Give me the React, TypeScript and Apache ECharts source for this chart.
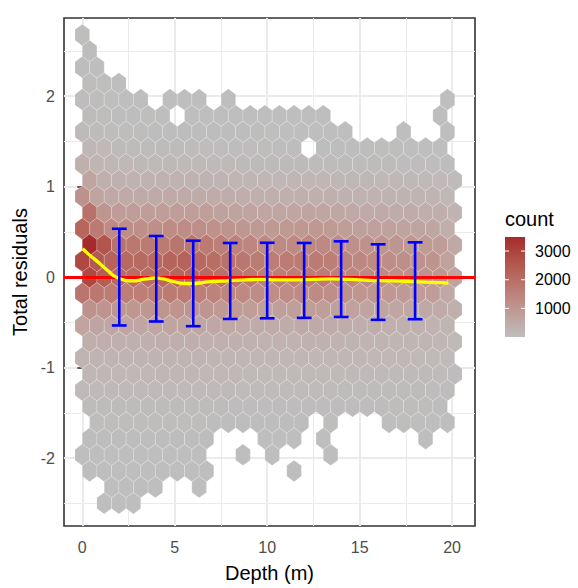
import React, { useEffect, useRef } from "react";
import * as echarts from "echarts";

// ---------- data ----------
const binWidthX = 0.79; // hex bin width (depth)
const rowStepY = 0.1785; // vertical distance between hex rows (residual)
const topRowIndex = 15; // row index of first row below (row y = index * rowStepY)

// hex counts: one array per row, from top row (index 15) down to bottom row (index -14); 26 columns; 0 = no hex
const hexCounts: number[][] = [
  [12, 0, 0, 0, 0, 0, 0, 0, 0, 0, 0, 0, 0, 0, 0, 0, 0, 0, 0, 0, 0, 0, 0, 0, 0, 0],
  [18, 0, 0, 0, 0, 0, 0, 0, 0, 0, 0, 0, 0, 0, 0, 0, 0, 0, 0, 0, 0, 0, 0, 0, 0, 0],
  [25, 8, 0, 0, 0, 0, 0, 0, 0, 0, 0, 0, 0, 0, 0, 0, 0, 0, 0, 0, 0, 0, 0, 0, 0, 0],
  [35, 12, 5, 0, 0, 0, 0, 0, 0, 0, 0, 0, 0, 0, 0, 0, 0, 0, 0, 0, 0, 0, 0, 0, 0, 0],
  [50, 20, 12, 8, 5, 0, 4, 5, 3, 0, 2, 0, 0, 0, 0, 0, 0, 0, 0, 0, 0, 0, 0, 0, 0, 2],
  [70, 35, 25, 18, 12, 8, 0, 8, 10, 6, 7, 6, 5, 4, 5, 3, 2, 0, 0, 0, 0, 0, 0, 0, 2, 0],
  [110, 60, 45, 35, 28, 25, 22, 22, 20, 18, 18, 15, 14, 12, 10, 10, 8, 6, 4, 0, 0, 0, 3, 0, 0, 2],
  [190, 110, 90, 75, 65, 60, 60, 58, 55, 50, 45, 40, 35, 32, 30, 0, 25, 22, 18, 15, 12, 10, 8, 6, 4, 0],
  [350, 210, 170, 150, 140, 135, 140, 135, 130, 120, 110, 100, 95, 90, 90, 90, 85, 80, 75, 70, 65, 60, 55, 50, 45, 30],
  [650, 380, 320, 290, 280, 275, 285, 280, 270, 250, 230, 215, 200, 195, 195, 200, 195, 185, 175, 165, 160, 150, 140, 130, 120, 80],
  [1100, 650, 540, 500, 490, 490, 510, 500, 480, 450, 420, 390, 370, 360, 360, 375, 370, 350, 330, 310, 300, 280, 270, 250, 240, 160],
  [1900, 1000, 860, 800, 790, 790, 820, 810, 780, 730, 680, 640, 600, 590, 590, 620, 610, 580, 540, 510, 490, 460, 440, 410, 390, 260],
  [2200, 1700, 1300, 1200, 1200, 1200, 1260, 1250, 1200, 1120, 1050, 980, 920, 900, 900, 950, 940, 880, 820, 770, 740, 700, 670, 620, 600, 400],
  [3490, 2600, 1900, 1750, 1700, 1700, 1800, 1780, 1700, 1600, 1500, 1400, 1300, 1280, 1300, 1350, 1330, 1250, 1150, 1080, 1050, 990, 950, 880, 850, 550],
  [2900, 2500, 2250, 2100, 2100, 2150, 2250, 2250, 2150, 2000, 1900, 1780, 1650, 1620, 1650, 1700, 1680, 1580, 1450, 1350, 1300, 1230, 1180, 1100, 1050, 700],
  [2900, 2400, 2150, 2050, 2050, 2100, 2200, 2200, 2100, 1950, 1850, 1720, 1600, 1580, 1600, 1650, 1640, 1540, 1420, 1320, 1280, 1200, 1150, 1080, 1030, 680],
  [1800, 1750, 1650, 1600, 1600, 1620, 1680, 1680, 1600, 1500, 1420, 1330, 1250, 1230, 1240, 1300, 1280, 1200, 1100, 1030, 1000, 940, 900, 840, 800, 540],
  [1100, 1050, 1000, 980, 980, 1000, 1040, 1040, 990, 930, 880, 830, 780, 770, 780, 810, 800, 750, 700, 650, 630, 590, 570, 530, 510, 340],
  [650, 630, 610, 600, 600, 610, 630, 630, 600, 570, 540, 510, 480, 470, 480, 500, 490, 460, 430, 400, 390, 360, 350, 330, 310, 210],
  [400, 390, 380, 380, 380, 385, 400, 400, 380, 360, 340, 320, 300, 300, 305, 320, 315, 295, 275, 255, 250, 230, 225, 210, 200, 130],
  [260, 250, 245, 245, 245, 250, 260, 260, 245, 230, 220, 205, 195, 195, 200, 205, 200, 190, 175, 165, 160, 150, 145, 135, 130, 85],
  [170, 165, 160, 160, 160, 165, 170, 170, 160, 150, 145, 135, 125, 125, 130, 135, 130, 125, 115, 105, 105, 95, 95, 90, 85, 55],
  [110, 105, 100, 100, 100, 105, 110, 110, 105, 100, 95, 88, 82, 80, 84, 88, 85, 80, 75, 70, 68, 62, 60, 58, 55, 35],
  [65, 62, 60, 60, 60, 62, 65, 65, 62, 58, 55, 52, 48, 47, 50, 52, 50, 47, 44, 41, 40, 37, 35, 34, 32, 0],
  [0, 35, 34, 34, 34, 35, 36, 36, 34, 32, 30, 28, 26, 25, 24, 20, 0, 12, 0, 0, 0, 10, 12, 10, 8, 5],
  [18, 17, 17, 17, 17, 17, 18, 16, 14, 0, 0, 0, 10, 9, 8, 0, 5, 0, 0, 0, 0, 0, 0, 4, 0, 0],
  [8, 9, 9, 9, 9, 9, 8, 7, 6, 0, 0, 3, 0, 3, 0, 0, 0, 2, 0, 0, 0, 0, 0, 0, 0, 0],
  [4, 5, 5, 5, 5, 4, 4, 3, 3, 0, 0, 0, 0, 0, 1, 0, 0, 0, 0, 0, 0, 0, 0, 0, 0, 0],
  [0, 0, 2, 2, 2, 2, 0, 0, 1, 0, 0, 0, 0, 0, 0, 0, 0, 0, 0, 0, 0, 0, 0, 0, 0, 0],
  [0, 1, 1, 1, 0, 0, 0, 0, 0, 0, 0, 0, 0, 0, 0, 0, 0, 0, 0, 0, 0, 0, 0, 0, 0, 0],
];

// mean trend line (yellow)
const trendDepth = [0.02, 0.3, 0.63, 1.0, 1.35, 1.71, 2.08, 2.44, 2.8, 3.16, 3.6, 3.97, 4.4, 4.78, 5.5, 6.04, 6.5, 6.95, 7.85, 8.8, 9.66, 10.5, 11.5, 12.5, 13.5, 14.5, 15.5, 16.5, 17.5, 18.5, 19.2, 19.8];
const trendResid = [0.315, 0.26, 0.205, 0.14, 0.077, 0.015, -0.02, -0.04, -0.04, -0.03, -0.015, -0.007, -0.02, -0.04, -0.07, -0.07, -0.06, -0.05, -0.04, -0.03, -0.025, -0.03, -0.03, -0.025, -0.02, -0.025, -0.035, -0.04, -0.045, -0.055, -0.06, -0.065];

// error bars (blue)
const errDepth = [2, 4, 6, 8, 10, 12, 14, 16, 18];
const errLow = [-0.534, -0.49, -0.542, -0.462, -0.455, -0.45, -0.44, -0.472, -0.465];
const errHigh = [0.535, 0.455, 0.403, 0.378, 0.38, 0.378, 0.396, 0.363, 0.385];
const errCapWidth = 0.8;

const xTicks = [0, 5, 10, 15, 20];
const yTicks = [-2, -1, 0, 1, 2];
const legendBreaks = [1000, 2000, 3000];
const countMin = 1;
const countMax = 3490;

// ---------- colour (Lab interpolation grey -> brown) ----------
const lowRGB = [190, 190, 190];
const highRGB = [165, 42, 42];
function toLin(c: number) {
  c /= 255;
  return c <= 0.04045 ? c / 12.92 : Math.pow((c + 0.055) / 1.055, 2.4);
}
function fromLin(c: number) {
  const v = c <= 0.0031308 ? 12.92 * c : 1.055 * Math.pow(c, 1 / 2.4) - 0.055;
  return Math.round(Math.max(0, Math.min(1, v)) * 255);
}
function rgbToLab(rgb: number[]) {
  const R = toLin(rgb[0]), G = toLin(rgb[1]), B = toLin(rgb[2]);
  const X = (0.4124564 * R + 0.3575761 * G + 0.1804375 * B) / 0.95047;
  const Y = 0.2126729 * R + 0.7151522 * G + 0.072175 * B;
  const Z = (0.0193339 * R + 0.119192 * G + 0.9503041 * B) / 1.08883;
  const f = (t: number) => (t > 216 / 24389 ? Math.cbrt(t) : ((24389 / 27) * t + 16) / 116);
  const fx = f(X), fy = f(Y), fz = f(Z);
  return [116 * fy - 16, 500 * (fx - fy), 200 * (fy - fz)];
}
function labToRgb(lab: number[]) {
  const fy = (lab[0] + 16) / 116;
  const fx = fy + lab[1] / 500;
  const fz = fy - lab[2] / 200;
  const inv = (t: number) => (t * t * t > 216 / 24389 ? t * t * t : (116 * t - 16) / (24389 / 27));
  const X = inv(fx) * 0.95047, Y = inv(fy), Z = inv(fz) * 1.08883;
  const R = 3.2404542 * X - 1.5371385 * Y - 0.4985314 * Z;
  const G = -0.969266 * X + 1.8760108 * Y + 0.041556 * Z;
  const B = 0.0556434 * X - 0.2040259 * Y + 1.0572252 * Z;
  return `rgb(${fromLin(R)},${fromLin(G)},${fromLin(B)})`;
}
const labLow = rgbToLab(lowRGB);
const labHigh = rgbToLab(highRGB);
const rampColors: string[] = [];
for (let i = 0; i <= 20; i++) {
  const t = i / 20;
  rampColors.push(labToRgb([0, 1, 2].map((j) => labLow[j] + (labHigh[j] - labLow[j]) * t)));
}

const FONT = "'Liberation Sans', Arial, sans-serif";

export default function App() {
  const ref = useRef<HTMLDivElement>(null);
  useEffect(() => {
    if (!ref.current) return;
    const chart = echarts.init(ref.current, undefined, { renderer: "svg" });

    const hexData: number[][] = [];
    hexCounts.forEach((row, i) => {
      const m = topRowIndex - i;
      const y = m * rowStepY;
      const offset = m % 2 === 0 ? binWidthX / 2 : 0;
      row.forEach((c, k) => {
        if (c > 0) hexData.push([offset + k * binWidthX, y, c]);
      });
    });

    const errData = errDepth.map((d, i) => [d, errLow[i], errHigh[i]]);
    const trendData = trendDepth.map((d, i) => [d, trendResid[i]]);

    const barX = 505, barY = 237, barW = 20, barH = 100;
    const valToY = (v: number) => barY + ((countMax - v) / (countMax - countMin)) * barH;
    const legendGraphics: any[] = [
      {
        type: "text",
        x: barX,
        y: 218.6,
        style: { text: "count", fontSize: 20, fill: "#000", fontFamily: FONT, verticalAlign: "middle", align: "left" },
      },
      {
        type: "rect",
        shape: { x: barX, y: barY, width: barW, height: barH },
        style: {
          fill: {
            type: "linear",
            x: 0, y: 1, x2: 0, y2: 0,
            colorStops: rampColors.map((c, i) => ({ offset: i / (rampColors.length - 1), color: c })),
          },
        },
      },
    ];
    legendBreaks.forEach((b) => {
      const y = valToY(b);
      legendGraphics.push(
        { type: "line", shape: { x1: barX, y1: y, x2: barX + 4, y2: y }, style: { stroke: "#fff", lineWidth: 1 } },
        { type: "line", shape: { x1: barX + barW - 4, y1: y, x2: barX + barW, y2: y }, style: { stroke: "#fff", lineWidth: 1 } },
        {
          type: "text",
          x: 535,
          y,
          style: { text: String(b), fontSize: 16, fill: "#000", fontFamily: FONT, verticalAlign: "middle", align: "left" },
        }
      );
    });

    const option: any = {
      animation: false,
      textStyle: { fontFamily: FONT },
      grid: { left: 64, right: 103, top: 18, bottom: 59, show: true, borderColor: "#333333", borderWidth: 1.6, backgroundColor: "#fff", z: 0 },
      xAxis: {
        type: "value",
        min: -0.99,
        max: 21.24,
        splitNumber: 5,
        name: "Depth (m)",
        nameLocation: "middle",
        nameGap: 37,
        nameTextStyle: { fontSize: 20, color: "#000", fontFamily: FONT },
        axisLine: { show: false },
        axisTick: { show: true, length: 5, customValues: xTicks, lineStyle: { color: "#333333", width: 1.6 } },
        axisLabel: { customValues: xTicks, showMinLabel: true, showMaxLabel: true, color: "#4D4D4D", fontSize: 16, margin: 13, fontFamily: FONT },
        splitLine: { show: true, lineStyle: { color: "#EBEBEB", width: 2 } },
        minorTick: { show: false, splitNumber: 2 },
        minorSplitLine: { show: true, lineStyle: { color: "#EBEBEB", width: 1 } },
      },
      yAxis: {
        type: "value",
        min: -2.751,
        max: 2.865,
        splitNumber: 5,
        name: "Total residuals",
        nameLocation: "middle",
        nameGap: 32,
        nameTextStyle: { fontSize: 20, color: "#000", fontFamily: FONT },
        axisLine: { show: false },
        axisTick: { show: true, length: 5, customValues: yTicks, lineStyle: { color: "#333333", width: 1.6 } },
        axisLabel: { customValues: yTicks, showMinLabel: true, showMaxLabel: true, color: "#4D4D4D", fontSize: 16, margin: 9, fontFamily: FONT },
        splitLine: { show: true, lineStyle: { color: "#EBEBEB", width: 2 } },
        minorTick: { show: false, splitNumber: 2 },
        minorSplitLine: { show: true, lineStyle: { color: "#EBEBEB", width: 1 } },
      },
      visualMap: {
        show: false,
        type: "continuous",
        seriesIndex: 0,
        dimension: 2,
        min: countMin,
        max: countMax,
        inRange: { color: rampColors },
      },
      graphic: legendGraphics,
      series: [
        {
          type: "custom",
          coordinateSystem: "cartesian2d",
          data: hexData,
          encode: { x: 0, y: 1 },
          z: 2,
          renderItem: (params: any, api: any) => {
            const c = api.coord([api.value(0), api.value(1)]);
            const sz = api.size([binWidthX / 2, rowStepY / 3]);
            const dx = sz[0], dy = sz[1];
            const pts = [
              [c[0] + dx, c[1] - dy],
              [c[0], c[1] - 2 * dy],
              [c[0] - dx, c[1] - dy],
              [c[0] - dx, c[1] + dy],
              [c[0], c[1] + 2 * dy],
              [c[0] + dx, c[1] + dy],
            ];
            return {
              type: "polygon",
              shape: { points: pts },
              style: { fill: api.visual("color"), stroke: "rgba(255,255,255,0.3)", lineWidth: 0.6 },
            };
          },
        },
        {
          type: "line",
          data: [],
          z: 4,
          markLine: {
            silent: true,
            symbol: "none",
            label: { show: false },
            lineStyle: { color: "#FF0000", width: 3, type: "solid" },
            data: [{ yAxis: 0 }],
            z: 4,
          },
        },
        {
          type: "line",
          data: trendData,
          z: 8,
          showSymbol: false,
          smooth: 0.4,
          lineStyle: { color: "#FFFF00", width: 3.3 },
        },
        {
          type: "custom",
          coordinateSystem: "cartesian2d",
          data: errData,
          encode: { x: 0, y: [1, 2] },
          z: 9,
          renderItem: (params: any, api: any) => {
            const x = api.value(0);
            const lo = api.coord([x, api.value(1)]);
            const hi = api.coord([x, api.value(2)]);
            const half = api.size([errCapWidth / 2, 0])[0];
            const st = { stroke: "#0000FF", lineWidth: 2.6 };
            return {
              type: "group",
              children: [
                { type: "line", shape: { x1: lo[0], y1: lo[1], x2: hi[0], y2: hi[1] }, style: st },
                { type: "line", shape: { x1: lo[0] - half, y1: lo[1], x2: lo[0] + half, y2: lo[1] }, style: st },
                { type: "line", shape: { x1: hi[0] - half, y1: hi[1], x2: hi[0] + half, y2: hi[1] }, style: st },
              ],
            };
          },
        },
      ],
    };
    chart.setOption(option);
    return () => chart.dispose();
  }, []);
  return <div ref={ref} style={{ position: "fixed", left: 0, top: 0, width: 578, height: 588, background: "#fff" }} />;
}
